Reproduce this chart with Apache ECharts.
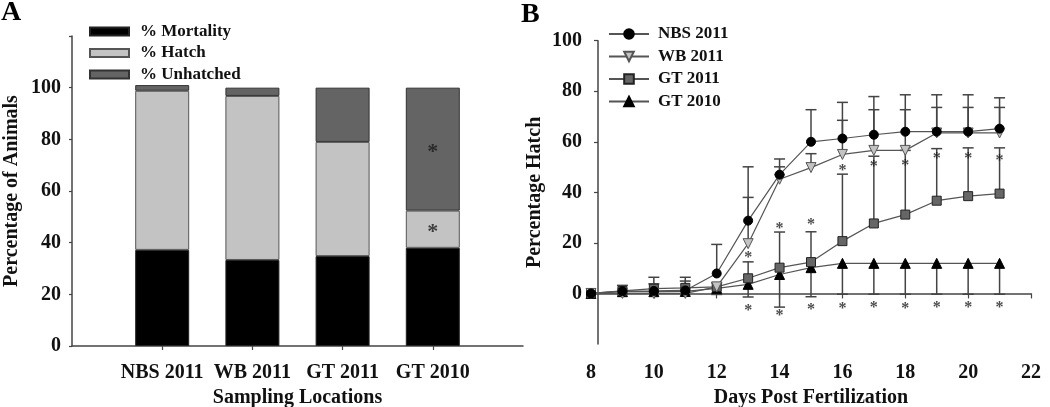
<!DOCTYPE html>
<html>
<head>
<meta charset="utf-8">
<script src="https://cdn.jsdelivr.net/npm/echarts@6/dist/echarts.min.js"></script>
<style>
html,body{margin:0;padding:0;background:#fff;}
#chart{width:1050px;height:407px;}
</style>
</head>
<body>
<div id="chart"></div>
<script>
// ---------- Panel A data ----------
const barCats = ['', 'NBS 2011', 'WB 2011', 'GT 2011', 'GT 2010', ''];
const mortality = ['-', 37.2, 33.3, 34.8, 38.0, '-'];
const hatch = ['-', 61.6, 63.5, 44.2, 14.4, '-'];
const unhatched = ['-', 2.2, 3.2, 21.0, 47.6, '-'];
const barStarCats = ['GT 2010', 'GT 2010'];
const barStarVals = [74.8, 44.2];
const yTicksA = [0, 20, 40, 60, 80, 100];

// ---------- Panel B data ----------
const days = [8, 9, 10, 11, 12, 13, 14, 15, 16, 17, 18, 19, 20, 21];
const nbs = [0, 0.9, 1.0, 1.2, 7.9, 28.8, 47.0, 60.0, 61.3, 62.8, 64.0, 64.0, 64.0, 65.2];
const nbsErr = [0, 0, 2.8, 3.7, 11.5, 21.3, 6.2, 12.7, 14.3, 15.1, 14.6, 14.6, 14.6, 12.2];
const wb = [0, 0, 0, 0, 2.6, 19.7, 45.2, 49.8, 55.0, 56.6, 56.6, 63.5, 63.5, 63.5];
const wbErr = [0, 0, 0, 0, 1.6, 18.3, 4.9, 5.5, 13.5, 16.1, 16.1, 10.1, 10.1, 10.1];
const gt11 = [0, 1.0, 1.9, 2.2, 2.6, 6.0, 10.2, 12.4, 20.7, 27.7, 31.2, 36.7, 38.5, 39.5];
const gt11Err = [0, 2.2, 4.5, 4.2, 0, 6.5, 14.1, 12.0, 26.5, 26.6, 25.4, 20.6, 19.1, 18.1];
const gt10 = [0, 0.7, 0.7, 0.8, 2.0, 3.6, 7.5, 10.2, 11.9, 11.9, 11.9, 11.9, 11.9, 11.9];
const gt10Err = [0, 0, 0, 0, 2.4, 5.0, 12.9, 11.5, 12.2, 12.2, 12.2, 12.2, 12.2, 12.2];
const starUpDays = [13, 14, 15, 16, 17, 18, 19, 20, 21];
const starUpVals = [13.9, 25.4, 27.1, 48.7, 49.9, 50.6, 53.3, 53.3, 52.4];
const starLoDays = [13, 14, 15, 16, 17, 18, 19, 20, 21];
const starLoVals = [-7.0, -9.0, -6.4, -6.0, -5.8, -6.0, -5.6, -5.8, -5.8];
const yTicksB = [0, 20, 40, 60, 80, 100];

const FONT = "'Liberation Serif', 'Times New Roman', serif";
const AX = '#444';

function errRender(dir) {
  return function (params, api) {
    const x = api.value(0), y = api.value(1), e = api.value(2);
    if (!e) return null;
    const p0 = api.coord([x, y]);
    const p1 = api.coord([x, y + dir * e]);
    const st = { stroke: AX, lineWidth: 1.5 };
    return {
      type: 'group',
      children: [
        { type: 'line', shape: { x1: p0[0], y1: p0[1], x2: p1[0], y2: p1[1] }, style: st },
        { type: 'line', shape: { x1: p1[0] - 5.5, y1: p1[1], x2: p1[0] + 5.5, y2: p1[1] }, style: st }
      ]
    };
  };
}
function errSeries(vals, errs, dir) {
  return {
    type: 'custom', xAxisIndex: 1, yAxisIndex: 1, z: 1,
    renderItem: errRender(dir),
    encode: { x: 0, y: 1 },
    data: days.map((d, i) => [d, vals[i], errs[i]]),
    silent: true
  };
}
function starSeries(xs, ys, xi, yi, size) {
  return {
    type: 'scatter', xAxisIndex: xi, yAxisIndex: yi, symbolSize: 0, z: 5,
    data: xs.map((x, i) => [x, ys[i]]),
    label: { show: true, formatter: '*', position: 'inside', fontFamily: FONT, fontSize: size, color: '#1a1a1a', fontWeight: 'bold' },
    silent: true
  };
}
function lineSeries(name, vals, symbol, size, fill, border) {
  return {
    name, type: 'line', xAxisIndex: 1, yAxisIndex: 1, z: 3,
    data: days.map((d, i) => [d, vals[i]]),
    symbol, symbolSize: size, showAllSymbol: true,
    lineStyle: { color: '#555', width: 1.2 },
    itemStyle: { color: fill, borderColor: border, borderWidth: 1 },
    silent: true
  };
}

const chart = echarts.init(document.getElementById('chart'));
const option = {
  backgroundColor: '#fff',
  animation: false,
  textStyle: { fontFamily: FONT },
  graphic: [
    { type: 'text', left: 1, top: -1, style: { text: 'A', font: "bold 28px 'Liberation Serif', serif", fill: '#000' } },
    { type: 'text', left: 521, top: 1, style: { text: 'B', font: "bold 28px 'Liberation Serif', serif", fill: '#000' } }
  ],
  legend: [
    {
      data: ['% Mortality', '% Hatch', '% Unhatched'],
      orient: 'vertical', left: 84, top: 18, itemWidth: 39, itemHeight: 8, itemGap: 4.5,
      icon: 'rect',
      textStyle: { fontFamily: FONT, fontSize: 17, fontWeight: 'bold', color: '#111', lineHeight: 17, padding: [0, 0, 0, 6] },
      selectedMode: false
    },
    {
      data: ['NBS 2011', 'WB 2011', 'GT 2011', 'GT 2010'],
      orient: 'vertical', left: 603, top: 20.5, itemWidth: 40, itemHeight: 12, itemGap: 5.5,
      textStyle: { fontFamily: FONT, fontSize: 17, fontWeight: 'bold', color: '#111', lineHeight: 17, padding: [0, 0, 0, 4] },
      selectedMode: false
    }
  ],
  grid: [
    { left: 72, top: 36, width: 451, height: 310, outerBoundsMode: 'none', containLabel: false },
    { left: 591, top: 40.7, width: 440, height: 303.3, outerBoundsMode: 'none', containLabel: false }
  ],
  xAxis: [
    {
      type: 'category', gridIndex: 0, data: barCats, boundaryGap: false,
      axisLine: { lineStyle: { color: AX, width: 1.5 } },
      axisTick: { show: true, length: 4, lineStyle: { color: AX, width: 1.2 }, interval: (i) => i > 0 && i < barCats.length - 1 },
      axisLabel: { interval: 0, margin: 17, fontFamily: FONT, fontSize: 20, fontWeight: 'bold', color: '#111' },
      name: 'Sampling Locations', nameLocation: 'middle', nameGap: 41,
      nameTextStyle: { fontFamily: FONT, fontSize: 20, fontWeight: 'bold', color: '#111' },
      splitLine: { show: false }
    },
    {
      type: 'value', gridIndex: 1, min: 8, max: 22, interval: 2,
      axisLine: { lineStyle: { color: AX, width: 1.5 } },
      axisTick: { show: true, length: 5, lineStyle: { color: AX, width: 1.2 } },
      axisLabel: { margin: 19, fontFamily: FONT, fontSize: 20, fontWeight: 'bold', color: '#111', showMaxLabel: true, showMinLabel: true },
      name: 'Days Post Fertilization', nameLocation: 'middle', nameGap: 41,
      nameTextStyle: { fontFamily: FONT, fontSize: 20, fontWeight: 'bold', color: '#111' },
      splitLine: { show: false }
    }
  ],
  yAxis: [
    {
      type: 'value', gridIndex: 0, min: 0, max: 120, interval: 20,
      axisLine: { show: true, lineStyle: { color: AX, width: 1.5 } },
      axisTick: { show: true, length: 3, lineStyle: { color: AX, width: 1.2 } },
      axisLabel: { margin: 11, fontFamily: FONT, fontSize: 20, fontWeight: 'bold', color: '#111',
        formatter: (v) => (yTicksA.indexOf(v) >= 0 ? String(v) : '') },
      name: 'Percentage of Animals', nameLocation: 'middle', nameGap: 50,
      nameTextStyle: { fontFamily: FONT, fontSize: 20, fontWeight: 'bold', color: '#111' },
      splitLine: { show: false }
    },
    {
      type: 'value', gridIndex: 1, min: -20, max: 100, interval: 20, offset: -7,
      axisLine: { show: true, lineStyle: { color: AX, width: 1.5 } },
      axisTick: { show: true, length: 4, lineStyle: { color: AX, width: 1.2 }, customValues: yTicksB },
      axisLabel: { margin: 16, fontFamily: FONT, fontSize: 20, fontWeight: 'bold', color: '#111', customValues: yTicksB },
      name: 'Percentage Hatch', nameLocation: 'middle', nameGap: 53,
      nameTextStyle: { fontFamily: FONT, fontSize: 20, fontWeight: 'bold', color: '#111' },
      splitLine: { show: false }
    }
  ],
  series: [
    { name: '% Mortality', type: 'bar', stack: 'a', xAxisIndex: 0, yAxisIndex: 0, data: mortality, barWidth: 54,
      itemStyle: { color: '#000', borderColor: '#222', borderWidth: 1 }, silent: true },
    { name: '% Hatch', type: 'bar', stack: 'a', xAxisIndex: 0, yAxisIndex: 0, data: hatch, barWidth: 54,
      itemStyle: { color: '#c3c3c3', borderColor: '#555', borderWidth: 1 }, silent: true },
    { name: '% Unhatched', type: 'bar', stack: 'a', xAxisIndex: 0, yAxisIndex: 0, data: unhatched, barWidth: 54,
      itemStyle: { color: '#646464', borderColor: '#333', borderWidth: 1 }, silent: true },
    starSeries(barStarCats, barStarVals, 0, 0, 22),

    errSeries(nbs, nbsErr, 1),
    errSeries(wb, wbErr, 1),
    errSeries(gt11, gt11Err, 1),
    errSeries(gt10, gt10Err, -1),
    lineSeries('GT 2010', gt10, 'triangle', 10, '#000', '#000'),
    lineSeries('GT 2011', gt11, 'rect', 9, '#666', '#222'),
    lineSeries('WB 2011', wb, 'path://M0,0 L10,0 L5,9 Z', 10, '#c3c3c3', '#555'),
    lineSeries('NBS 2011', nbs, 'circle', 9, '#000', '#000'),
    starSeries(starUpDays, starUpVals, 1, 1, 16),
    starSeries(starLoDays, starLoVals, 1, 1, 16)
  ]
};
chart.setOption(option);
</script>
</body>
</html>
